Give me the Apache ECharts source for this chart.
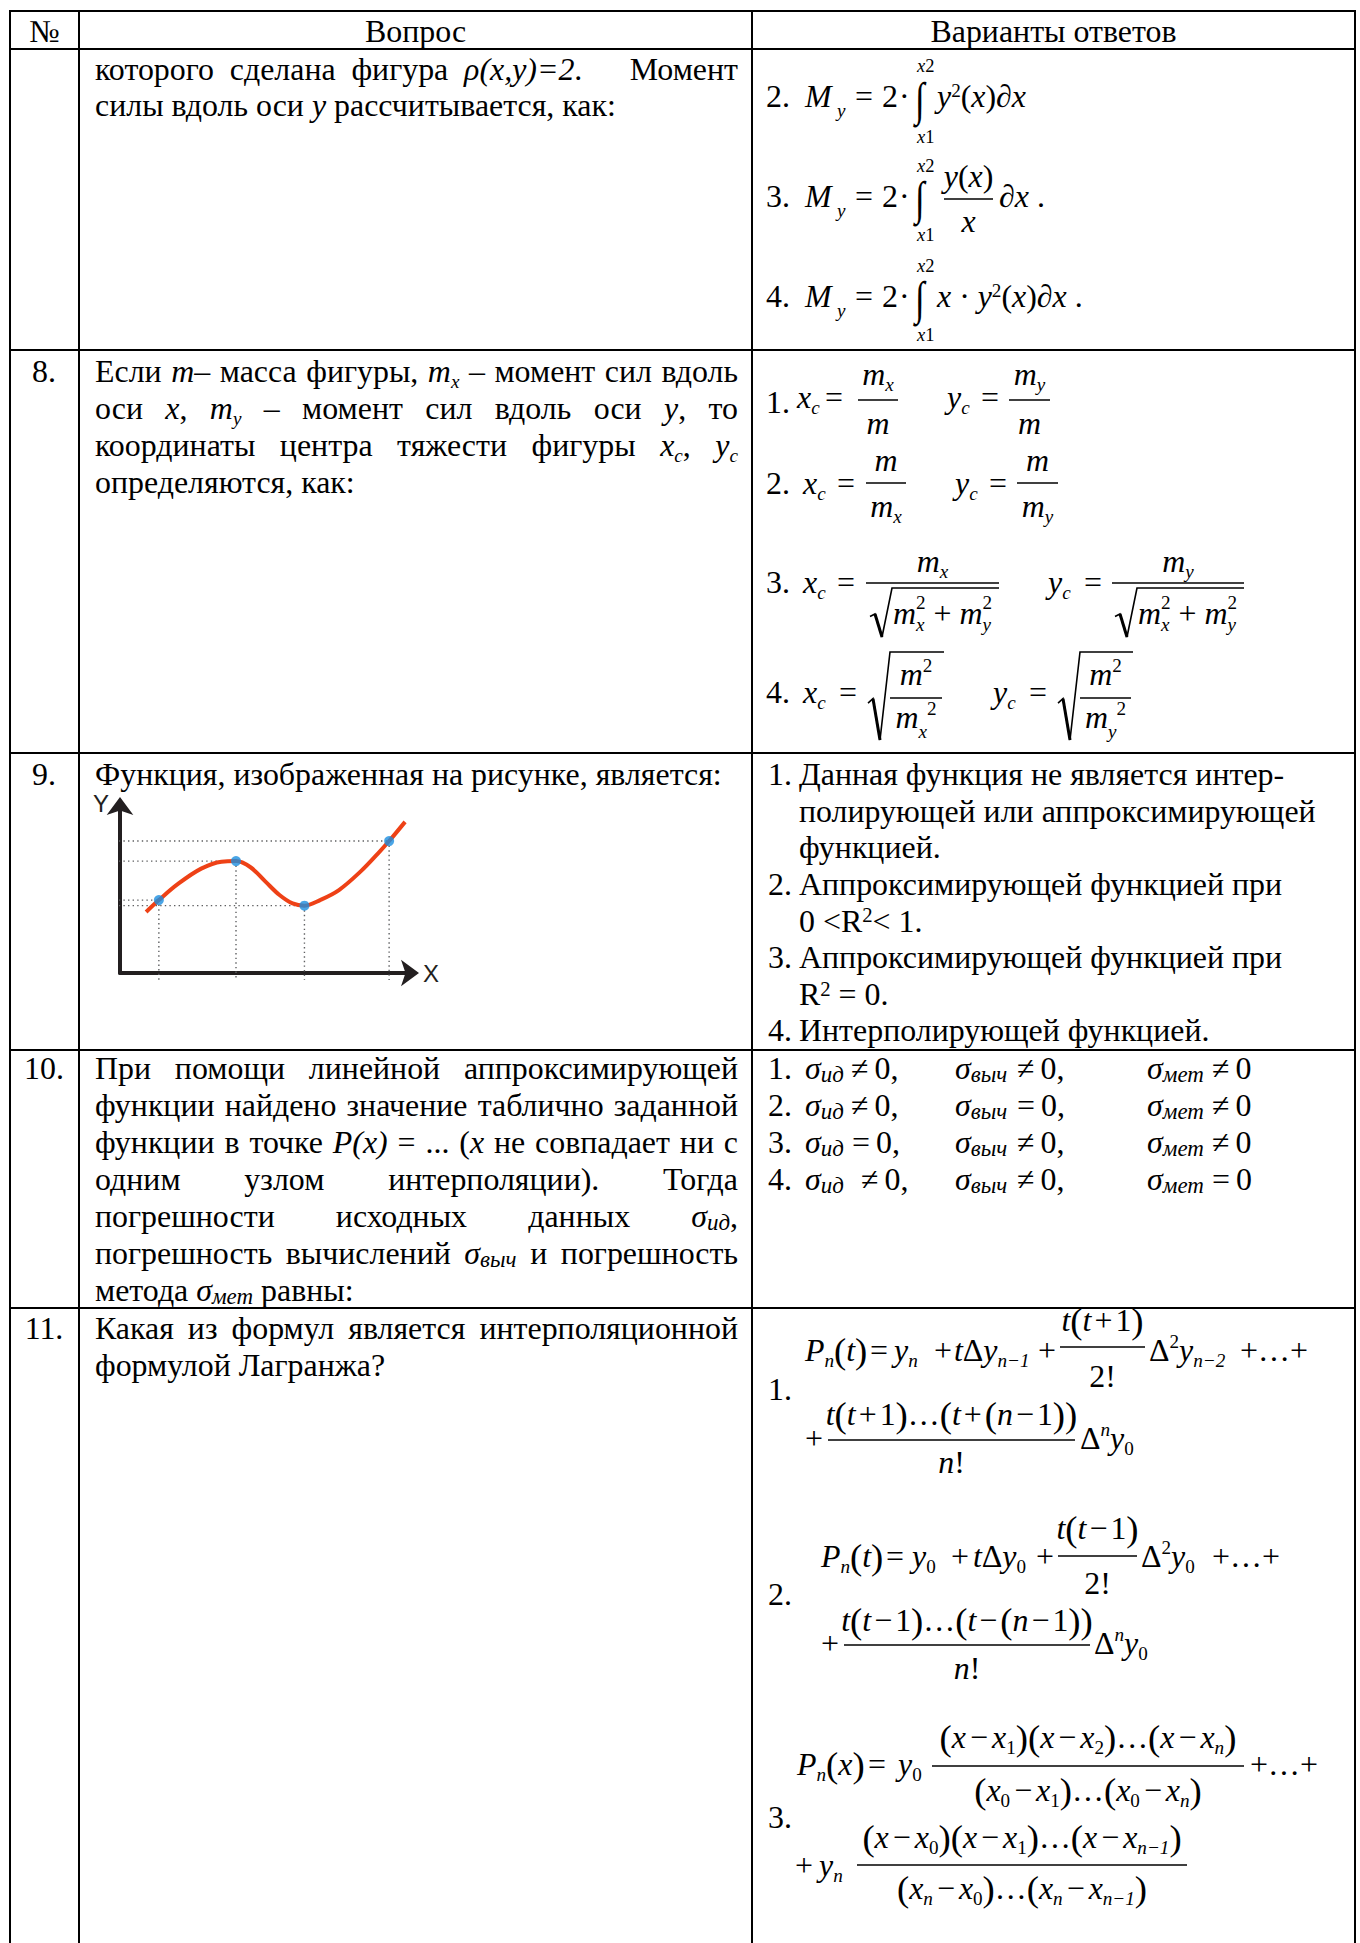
<!DOCTYPE html>
<html>
<head>
<meta charset="utf-8">
<title>Вопросы 7–11</title>
<script src="https://cdn.jsdelivr.net/npm/echarts@6/dist/echarts.min.js"></script>
<style>
  html, body { margin: 0; padding: 0; background: #fff; }
  #page { width: 1360px; height: 1943px; }
</style>
</head>
<body>
<div id="page"></div>
<script>
// figure of question 9 (x 0..10, y 0..6)
const curveX = [0.9, 1.34, 2.0, 2.8, 3.5, 4.0, 4.5, 5.0, 5.5, 5.95, 6.36, 6.9, 7.55, 8.3, 8.9, 9.28, 9.83];
const curveY = [2.19, 2.62, 3.2, 3.75, 4.0, 4.02, 3.8, 3.3, 2.8, 2.5, 2.42, 2.62, 2.98, 3.65, 4.3, 4.74, 5.43];
const nodeX = [1.34, 4.0, 6.36, 9.28];
const nodeY = [2.62, 4.02, 2.42, 4.74];
const axisNames = ['X', 'Y'];

// table frame
const colX = [10, 79, 752, 1355];
const rowY = [11, 49, 350, 753, 1050, 1308];
const headers = ['№', 'Вопрос', 'Варианты ответов'];

const SERIF = 'Liberation Serif, Times New Roman, serif';
const SANS = 'Liberation Sans, Arial, sans-serif';
const MID = 0.3375;
const SUB = 0.6;

const cv = document.createElement('canvas').getContext('2d');
function measure(t, size, ital) {
  cv.font = (ital ? 'italic ' : '') + size + 'px ' + SERIF;
  return cv.measureText(t).width;
}
// body size fitted to the one-line paragraph of question 9
const FS = 31.5 * 627 / measure('Функция, изображенная на рисунке, является:', 31.5);

const out = [];
function put(x, y, t, size, ital, align, sx) {
  if (!t) return;
  out.push({
    type: 'text', x: x, y: y, scaleX: sx || 1, silent: true,
    style: {
      text: t, fontSize: size, fontFamily: SERIF, fontStyle: ital ? 'italic' : 'normal',
      fill: '#000', align: align || 'left', verticalAlign: 'middle'
    }
  });
}
function txt(x, base, t, size, ital, align) { put(x, base - MID * size, t, size, ital, align); }
function ctr(x, base, t) { txt(x, base, t, FS, false, 'center'); }
function hline(x0, x1, y, w) {
  out.push({ type: 'line', silent: true, shape: { x1: x0, y1: y, x2: x1, y2: y }, style: { stroke: '#000', lineWidth: w } });
}
function vline(x, y0, y1, w) {
  out.push({ type: 'line', silent: true, shape: { x1: x, y1: y0, x2: x, y2: y1 }, style: { stroke: '#000', lineWidth: w } });
}

// lay out a run of pieces, returns end x
function run(items, x, base, draw, size) {
  size = size || FS;
  for (const it of items) {
    if (typeof it === 'string') {
      if (draw) txt(x, base, it, size, false);
      x += measure(it, size, false);
      continue;
    }
    if (it.at !== undefined) { x = it.at; continue; }
    if (it.sp !== undefined) { x += it.sp; continue; }
    if (it.ss) {
      const s2 = size * SUB;
      if (draw) {
        txt(x, base - size * 0.46, it.ss[0], s2, false);
        txt(x, base + size * 0.22, it.ss[1], s2, true);
      }
      x += Math.max(measure(it.ss[0], s2, false), measure(it.ss[1], s2, true));
      continue;
    }
    let t, s = size, dy = 0, ital = false;
    if (it.i !== undefined) { t = it.i; ital = true; }
    else if (it.t !== undefined) { t = it.t; ital = !!it.it; }
    else if (it.sub !== undefined) { t = it.sub; s = size * SUB; dy = size * 0.2; ital = !it.up && !/^[0-9]+$/.test(t); }
    else if (it.sup !== undefined) { t = it.sup; s = size * SUB; dy = -size * 0.42; ital = !!it.it; }
    else if (it.big !== undefined) { t = it.big; s = size * 1.15; dy = size * 0.05; }
    if (it.s) s = it.s;
    if (it.dy !== undefined) dy = it.dy;
    if (draw) txt(x, base + dy, t, s, ital);
    x += measure(t, s, ital);
  }
  return x;
}
function just(x0, x1, base, words) {
  if (typeof words === 'string') words = words.split(' ');
  const ws = words.map(w => Array.isArray(w) ? w : [w]);
  const wd = ws.map(w => run(w, 0, 0, false));
  const gap = (x1 - x0 - wd.reduce((a, b) => a + b, 0)) / (ws.length - 1);
  let x = x0;
  ws.forEach((w, k) => { run(w, x, base, true); x += wd[k] + gap; });
}
function frac(x0, x1, bar, num, den, nb, db) {
  hline(x0, x1, bar, 1.5);
  const nw = run(num, 0, 0, false), dw = run(den, 0, 0, false);
  run(num, (x0 + x1 - nw) / 2, bar - nb, true);
  run(den, (x0 + x1 - dw) / 2, bar + db, true);
}
function rad(x, yb, yt, x1) {
  const h = yb - yt;
  out.push({ type: 'polyline', silent: true,
    shape: { points: [[x, yb - 0.42 * h], [x + 5, yb - 0.47 * h], [x + 12, yb], [x + 22, yt], [x1, yt]] },
    style: { stroke: '#000', lineWidth: 1.6, fill: null } });
  out.push({ type: 'line', silent: true, shape: { x1: x + 5, y1: yb - 0.47 * h, x2: x + 12, y2: yb }, style: { stroke: '#000', lineWidth: 3 } });
}
// tall integral sign, narrowed a little
function intg(x, top, bot) { put(x, (top + bot) / 2, '∫', (bot - top) / 0.92, false, 'left', 0.75); }
function lim(x, upBase, loBase) {
  const LS = FS * 0.58;
  run([{ i: 'x', s: LS }, { t: '2', s: LS }], x, upBase, true);
  run([{ i: 'x', s: LS }, { t: '1', s: LS }], x, loBase, true);
}
const My = [{ at: 805 }, { i: 'M' }, { at: 837 }, { sub: 'y', dy: FS * 0.3 }, { at: 855 }, '=', { at: 882 }, '2', { at: 899 }, '·'];
const sq = { sup: '2', dy: -FS * 0.3 };

// ---- frame
rowY.forEach(y => hline(colX[0] - 1, colX[3] + 1, y, 2));
colX.forEach(x => vline(x, rowY[0] - 1, 1943, 2));
ctr((colX[0] + colX[1]) / 2, 42, headers[0]);
ctr((colX[1] + colX[2]) / 2, 42, headers[1]);
ctr((colX[2] + colX[3]) / 2, 42, headers[2]);

const L = 95, R = 738, A = 766;

// ---- row 7 (continued)
just(L, R, 80, ['которого', 'сделана', 'фигура', [{ i: 'ρ(x,y)=2' }, '.'], '', '', 'Момент']);
run(['силы вдоль оси ', { i: 'y' }, ' рассчитывается, как:'], L, 116, true);

run([{ at: A }, '2.'].concat(My), 0, 107, true);
intg(915, 78, 121); lim(917, 72, 143);
run([{ at: 937 }, { i: 'y' }, sq, '(', { i: 'x' }, ')∂', { i: 'x' }], 0, 107, true);

run([{ at: A }, '3.'].concat(My), 0, 207, true);
intg(915, 177, 220); lim(917, 172, 241);
frac(944, 993, 199, [{ i: 'y' }, '(', { i: 'x' }, ')'], [{ i: 'x' }], 12, 33);
run([{ at: 999 }, '∂', { i: 'x' }, ' .'], 0, 207, true);

run([{ at: A }, '4.'].concat(My), 0, 307, true);
intg(915, 277, 320); lim(917, 272, 341);
run([{ at: 937 }, { i: 'x' }, ' · ', { i: 'y' }, sq, '(', { i: 'x' }, ')∂', { i: 'x' }, ' .'], 0, 307, true);

// ---- row 8
ctr(44, 382, '8.');
just(L, R, 382, ['Если', [{ i: 'm' }, '–'], 'масса', 'фигуры,', [{ i: 'm' }, { sub: 'x' }], '–', 'момент', 'сил', 'вдоль']);
just(L, R, 419, ['оси', [{ i: 'x' }, ','], [{ i: 'm' }, { sub: 'y' }], '–', 'момент', 'сил', 'вдоль', 'оси', [{ i: 'y' }, ','], 'то']);
just(L, R, 456, ['координаты', 'центра', 'тяжести', 'фигуры', [{ i: 'x' }, { sub: 'c' }, ','], [{ i: 'y' }, { sub: 'c' }]]);
run(['определяются, как:'], L, 493, true);

run([{ at: A }, '1.'], 0, 413, true);
run([{ at: 797 }, { i: 'x' }, { sub: 'c' }, { at: 825 }, '='], 0, 408, true);
frac(858, 898, 400, [{ i: 'm' }, { sub: 'x' }], [{ i: 'm' }], 15, 34);
run([{ at: 947 }, { i: 'y' }, { sub: 'c' }, { at: 981 }, '='], 0, 408, true);
frac(1009, 1050, 400, [{ i: 'm' }, { sub: 'y' }], [{ i: 'm' }], 15, 34);

run([{ at: A }, '2.', { at: 803 }, { i: 'x' }, { sub: 'c' }, { at: 837 }, '='], 0, 494, true);
frac(866, 906, 483, [{ i: 'm' }], [{ i: 'm' }, { sub: 'x' }], 12, 34);
run([{ at: 955 }, { i: 'y' }, { sub: 'c' }, { at: 989 }, '='], 0, 494, true);
frac(1017, 1058, 483, [{ i: 'm' }], [{ i: 'm' }, { sub: 'y' }], 12, 34);

run([{ at: A }, '3.', { at: 803 }, { i: 'x' }, { sub: 'c' }, { at: 837 }, '='], 0, 593, true);
frac(866, 999, 583, [{ i: 'm' }, { sub: 'x' }], [], 11, 0);
rad(870, 637, 588, 999);
run([{ at: 893 }, { i: 'm' }, { ss: ['2', 'x'] }, ' + ', { i: 'm' }, { ss: ['2', 'y'] }], 0, 624, true);
run([{ at: 1048 }, { i: 'y' }, { sub: 'c' }, { at: 1084 }, '='], 0, 593, true);
frac(1112, 1244, 583, [{ i: 'm' }, { sub: 'y' }], [], 11, 0);
rad(1115, 637, 588, 1244);
run([{ at: 1138 }, { i: 'm' }, { ss: ['2', 'x'] }, ' + ', { i: 'm' }, { ss: ['2', 'y'] }], 0, 624, true);

run([{ at: A }, '4.', { at: 803 }, { i: 'x' }, { sub: 'c' }, { at: 839 }, '='], 0, 703, true);
rad(868, 740, 652, 944);
frac(890, 942, 698, [{ i: 'm' }, { sup: '2' }], [{ i: 'm' }, { sub: 'x', dy: FS * 0.3 }, { sup: '2' }], 13, 30);
run([{ at: 993 }, { i: 'y' }, { sub: 'c' }, { at: 1029 }, '='], 0, 703, true);
rad(1058, 740, 652, 1133);
frac(1080, 1131, 698, [{ i: 'm' }, { sup: '2' }], [{ i: 'm' }, { sub: 'y', dy: FS * 0.3 }, { sup: '2' }], 13, 30);

// ---- row 9
ctr(44, 785, '9.');
run(['Функция, изображенная на рисунке, является:'], L, 785, true);
const sup2 = { t: '2', s: FS * 0.65, dy: -FS * 0.3 };
[
  ['1.', ['Данная функция не является интер-']],
  [null, ['полирующей или аппроксимирующей']],
  [null, ['функцией.']],
  ['2.', ['Аппроксимирующей функцией при']],
  [null, ['0 <R', sup2, '< 1.']],
  ['3.', ['Аппроксимирующей функцией при']],
  [null, ['R', sup2, ' = 0.']],
  ['4.', ['Интерполирующей функцией.']]
].forEach((ln, k) => {
  const b = 785.5 + 36.6 * k;
  if (ln[0]) txt(A + 2, b, ln[0], FS, false);
  run(ln[1], 799, b, true);
});

// ---- row 10
ctr(44, 1079, '10.');
const sg = s => [{ i: 'σ' }, { t: s, it: 1, s: FS * 0.72, dy: FS * 0.1 }];
just(L, R, 1079, 'При помощи линейной аппроксимирующей');
just(L, R, 1116, 'функции найдено значение таблично заданной');
just(L, R, 1153, ['функции', 'в', 'точке', [{ i: 'P(x)' }], '=', '...', ['(', { i: 'x' }], 'не', 'совпадает', 'ни', 'с']);
just(L, R, 1190, 'одним узлом интерполяции). Тогда');
just(L, R, 1227, ['погрешности', 'исходных', 'данных', sg('ид').concat([','])]);
just(L, R, 1264, ['погрешность', 'вычислений', sg('выч'), 'и', 'погрешность']);
run(['метода '].concat(sg('мет'), [' равны:']), L, 1301, true);

const sigX = [805, 955, 1147];
const sigSub = ['ид', 'выч', 'мет'];
const opX = [[851, 1017, 1212], [851, 1017, 1212], [852, 1017, 1212], [861, 1017, 1212]];
const ops = [['≠', '≠', '≠'], ['≠', '=', '≠'], ['=', '≠', '≠'], ['≠', '≠', '=']];
ops.forEach((row, k) => {
  const b = 1079.5 + 36.8 * k;
  txt(A + 2, b, (k + 1) + '.', FS, false);
  row.forEach((op, j) => {
    run([{ at: sigX[j] }].concat(sg(sigSub[j])), 0, b, true);
    run([{ at: opX[k][j] }, op, { sp: 6 }, j < 2 ? '0,' : '0'], 0, b, true);
  });
});

// ---- row 11
ctr(44, 1339, '11.');
just(L, R, 1339, 'Какая из формул является интерполяционной');
run(['формулой Лагранжа?'], L, 1376, true);

const pl = { sp: 3 };
const tp1 = [{ i: 't' }, { big: '(' }, { i: 't' }, pl, '+', pl, '1', { big: ')' }];
const tm1 = [{ i: 't' }, { big: '(' }, { i: 't' }, pl, '−', pl, '1', { big: ')' }];

txt(A + 2, 1400, '1.', FS, false);
run([{ at: 805 }, { i: 'P' }, { sub: 'n' }, { big: '(' }, { i: 't' }, { big: ')' }, { at: 870 }, '=', { at: 894 }, { i: 'y' }, { sub: 'n' },
  { at: 934 }, '+', { at: 954 }, { i: 't' }, 'Δ', { i: 'y' }, { sub: 'n−1' }, { at: 1038 }, '+'], 0, 1361, true);
frac(1060, 1145, 1347, tp1, ['2!'], 16, 40);
run([{ at: 1149 }, 'Δ', { sup: '2' }, { i: 'y' }, { sub: 'n−2' }, { at: 1240 }, '+…+'], 0, 1361, true);
run([{ at: 805 }, '+'], 0, 1449, true);
frac(828, 1075, 1440, tp1.concat(['…', { big: '(' }, { i: 't' }, pl, '+', pl, { big: '(' }, { i: 'n' }, pl, '−', pl, '1', { big: ')' }, { big: ')' }]),
  [{ i: 'n' }, '!'], 15, 33);
run([{ at: 1080 }, 'Δ', { sup: 'n', it: 1 }, { i: 'y' }, { sub: '0' }], 0, 1449, true);

txt(A + 2, 1605, '2.', FS, false);
run([{ at: 821 }, { i: 'P' }, { sub: 'n' }, { big: '(' }, { i: 't' }, { big: ')' }, { at: 886 }, '=', { at: 912 }, { i: 'y' }, { sub: '0' },
  { at: 951 }, '+', { at: 973 }, { i: 't' }, 'Δ', { i: 'y' }, { sub: '0' }, { at: 1036 }, '+'], 0, 1567, true);
frac(1058, 1137, 1556, tm1, ['2!'], 17, 38);
run([{ at: 1141 }, 'Δ', { sup: '2' }, { i: 'y' }, { sub: '0' }, { at: 1212 }, '+…+'], 0, 1567, true);
run([{ at: 821 }, '+'], 0, 1654, true);
frac(844, 1090, 1645, tm1.concat(['…', { big: '(' }, { i: 't' }, pl, '−', pl, { big: '(' }, { i: 'n' }, pl, '−', pl, '1', { big: ')' }, { big: ')' }]),
  [{ i: 'n' }, '!'], 14, 34);
run([{ at: 1094 }, 'Δ', { sup: 'n', it: 1 }, { i: 'y' }, { sub: '0' }], 0, 1654, true);

const ms = { sp: 4 };
const fx = (a, b) => [{ big: '(' }, { i: 'x' }].concat(a ? [{ sub: a }] : [], [ms, '−', ms, { i: 'x' }, { sub: b }, { big: ')' }]);
txt(A + 2, 1828, '3.', FS, false);
run([{ at: 797 }, { i: 'P' }, { sub: 'n' }, { big: '(' }, { i: 'x' }, { big: ')' }, { at: 868 }, '=', { at: 898 }, { i: 'y' }, { sub: '0' }], 0, 1775, true);
frac(932, 1244, 1766, fx(null, '1').concat(fx(null, '2'), ['…'], fx(null, 'n')), fx('0', '1').concat(['…'], fx('0', 'n')), 18, 35);
run([{ at: 1250 }, '+…+'], 0, 1775, true);
run([{ at: 795 }, '+', { at: 819 }, { i: 'y' }, { sub: 'n' }], 0, 1876, true);
frac(857, 1187, 1865, fx(null, '0').concat(fx(null, '1'), ['…'], fx(null, 'n−1')), fx('n', '0').concat(['…'], fx('n', 'n−1')), 17, 34);

// ---- figure of question 9
const GX0 = -0.2, GY0 = -0.25;
function guide(data) {
  return { type: 'line', data: data, symbol: 'none', clip: false, silent: true, z: 1,
    lineStyle: { color: '#5f6062', width: 1.4, type: [1.4, 3.2] } };
}
const guides = [];
nodeX.forEach((x, k) => {
  guides.push(guide([[GX0, nodeY[k]], [x, nodeY[k]]]));
  guides.push(guide([[x, nodeY[k]], [x, GY0]]));
});

const axisLine = { show: true, onZero: true, symbol: ['none', 'arrow'], symbolSize: [20, 18], symbolOffset: [0, 9],
  lineStyle: { color: '#231f20', width: 4 } };
const nameStyle = { fontFamily: SANS, fontSize: 24, color: '#231f20' };

const chart = echarts.init(document.getElementById('page'), null, { renderer: 'svg' });
chart.setOption({
  animation: false,
  backgroundColor: '#fff',
  grid: { left: 120, top: 806, width: 290, height: 167, containLabel: false, outerBoundsMode: 'none' },
  xAxis: {
    type: 'value', min: 0, max: 10, name: axisNames[0], nameLocation: 'end', nameGap: 13,
    nameTextStyle: Object.assign({ align: 'left', verticalAlign: 'middle' }, nameStyle),
    axisLine: axisLine, axisTick: { show: false }, axisLabel: { show: false }, splitLine: { show: false }
  },
  yAxis: {
    type: 'value', min: 0, max: 6, name: axisNames[1], nameLocation: 'end', nameGap: -9,
    nameTextStyle: Object.assign({ align: 'right', verticalAlign: 'bottom', padding: [0, 11, 0, 0] }, nameStyle),
    axisLine: axisLine, axisTick: { show: false }, axisLabel: { show: false }, splitLine: { show: false }
  },
  series: guides.concat([
    { type: 'line', data: curveX.map((x, k) => [x, curveY[k]]), smooth: 0.35, symbol: 'none', clip: false, z: 3,
      lineStyle: { color: '#ee4116', width: 4 } },
    { type: 'scatter', data: nodeX.map((x, k) => [x, nodeY[k]]), symbolSize: 10, z: 4,
      itemStyle: { color: '#1b8ee0' } }
  ]),
  graphic: out
});
</script>
</body>
</html>
